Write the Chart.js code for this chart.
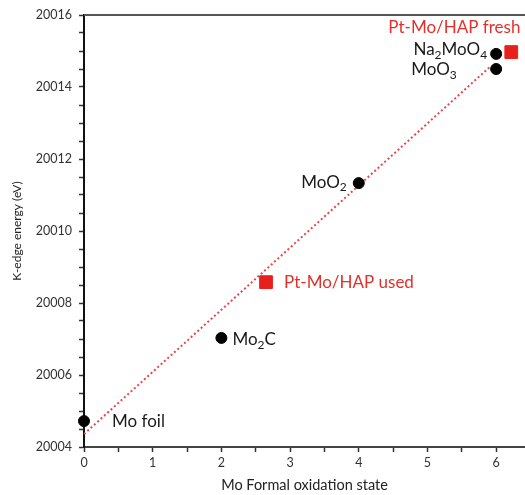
<!DOCTYPE html>
<html>
<head>
<meta charset="utf-8">
<script src="https://cdn.jsdelivr.net/npm/chart.js@4/dist/chart.umd.min.js"></script>
<style>
html,body{margin:0;padding:0;background:#fff;overflow:hidden;}
#wrap{width:525px;height:495px;}
</style>
</head>
<body>
<div id="wrap"><canvas id="c" width="525" height="495"></canvas></div>
<script>
// Reference compounds (black circles)
const refNames = ['Mo foil', 'Mo2C', 'MoO2', 'MoO3', 'Na2MoO4'];
const refX = [0, 2, 4, 6, 6];
const refY = [20004.72, 20007.03, 20011.33, 20014.5, 20014.92];
// Samples (red squares)
const sampleNames = ['Pt-Mo/HAP used', 'Pt-Mo/HAP fresh'];
const sampleX = [2.65, 6.22];
const sampleY = [20008.58, 20014.97];
// Linear fit (dotted red line)
const fitX = [0, 5.91];
const fitY = [20004.36, 20014.56];
// Axis ticks
const xTickLabels = [0, 1, 2, 3, 4, 5, 6];
const yTickLabels = [20004, 20006, 20008, 20010, 20012, 20014, 20016];

const FONT = 'Lato, "Open Sans", sans-serif';
const RED = '#e3302a';

// label placement (pixel offsets from the mark, style only)
const refLabelPos = [
  {dx: 28, dy: 0, align: 'left'},
  {dx: 11, dy: 2, align: 'left'},
  {dx: -12, dy: -1, align: 'right'},
  {dx: -85, dy: 1, align: 'left'},
  {dx: -9, dy: -4, align: 'right'}
];
const sampleLabelPos = [
  {dx: 18, dy: 0, align: 'left'},
  {dx: -123, dy: -25, align: 'left'}
];

function parts(name) {
  const out = [];
  const re = /(\d+)|([^\d]+)/g;
  let m;
  while ((m = re.exec(name))) out.push(m[1] ? {t: m[1], sub: true} : {t: m[2], sub: false});
  return out;
}
function drawRich(ctx, name, x, y, align, color, size) {
  const ps = parts(name);
  const subSize = Math.round(size * 0.7);
  let w = 0;
  ps.forEach(p => { ctx.font = (p.sub ? subSize : size) + 'px ' + FONT; w += ctx.measureText(p.t).width; });
  let cx = align === 'right' ? x - w : x;
  ctx.fillStyle = color;
  ctx.textBaseline = 'middle';
  ctx.textAlign = 'left';
  ps.forEach(p => {
    ctx.font = (p.sub ? subSize : size) + 'px ' + FONT;
    ctx.fillText(p.t, cx, p.sub ? y + size * 0.32 : y);
    cx += ctx.measureText(p.t).width;
  });
}

const labelPlugin = {
  id: 'labels',
  afterDraw(chart) {
    const ctx = chart.ctx;
    const xs = chart.scales.x, ys = chart.scales.y;
    const a = chart.chartArea;
    ctx.save();
    ctx.strokeStyle = '#555';
    ctx.lineWidth = 2;
    ctx.beginPath();
    ctx.moveTo(a.left, a.top);
    ctx.lineTo(a.right, a.top);
    ctx.stroke();
    refNames.forEach((n, i) => {
      const p = refLabelPos[i];
      drawRich(ctx, n, xs.getPixelForValue(refX[i]) + p.dx, ys.getPixelForValue(refY[i]) + p.dy, p.align, '#1a1a1a', 17);
    });
    sampleNames.forEach((n, i) => {
      const p = sampleLabelPos[i];
      drawRich(ctx, n, xs.getPixelForValue(sampleX[i]) + p.dx, ys.getPixelForValue(sampleY[i]) + p.dy, p.align, RED, 17);
    });
    ctx.restore();
  }
};

new Chart(document.getElementById('c'), {
  type: 'scatter',
  data: {
    datasets: [
      {
        type: 'line',
        data: fitX.map((x, i) => ({x, y: fitY[i]})),
        borderColor: '#e5484a',
        borderWidth: 2,
        borderDash: [2, 2.5],
        pointRadius: 0,
        fill: false,
        order: 3
      },
      {
        data: refX.map((x, i) => ({x, y: refY[i]})),
        backgroundColor: '#000',
        borderColor: '#000',
        pointRadius: 5.5,
        pointStyle: 'circle',
        clip: false,
        order: 1
      },
      {
        data: sampleX.map((x, i) => ({x, y: sampleY[i]})),
        backgroundColor: '#e8201c',
        borderColor: '#e8201c',
        pointRadius: 9,
        pointStyle: 'rect',
        clip: false,
        order: 2
      }
    ]
  },
  options: {
    responsive: false,
    animation: false,
    layout: {autoPadding: false, padding: {top: 15, left: 0, right: 0, bottom: 0}},
    plugins: {legend: {display: false}, tooltip: {enabled: false}},
    scales: {
      x: {
        type: 'linear',
        min: 0,
        max: 6.42,
        afterFit: s => { s.height = 48; s.paddingRight = 0; s.paddingLeft = 0; },
        ticks: {
          stepSize: 0.5,
          includeBounds: false,
          autoSkip: false,
          maxRotation: 0,
          padding: 3,
          color: '#333',
          font: {family: FONT, size: 12.5},
          callback: v => xTickLabels.includes(v) ? String(v) : ''
        },
        grid: {drawOnChartArea: false, tickLength: 5, tickColor: '#333', tickWidth: 1.5},
        border: {color: '#444', width: 2},
        title: {display: true, text: 'Mo Formal oxidation state', color: '#222', font: {family: FONT, size: 14.5}, padding: {top: 0, bottom: 1}}
      },
      y: {
        type: 'linear',
        min: 20004,
        max: 20016,
        afterFit: s => { s.width = 84; s.paddingTop = 0; s.paddingBottom = 0; },
        ticks: {
          stepSize: 0.5,
          autoSkip: false,
          padding: 7,
          color: '#333',
          font: {family: FONT, size: 12.5},
          callback: v => yTickLabels.includes(v) ? String(v) : ''
        },
        grid: {drawOnChartArea: false, tickLength: 5, tickColor: '#333', tickWidth: 1.5},
        border: {color: '#111', width: 2},
        title: {display: true, text: 'K-edge energy (eV)', color: '#222', font: {family: FONT, size: 12}, padding: {top: 10, bottom: 0}}
      }
    }
  },
  plugins: [labelPlugin]
});
</script>
</body>
</html>
